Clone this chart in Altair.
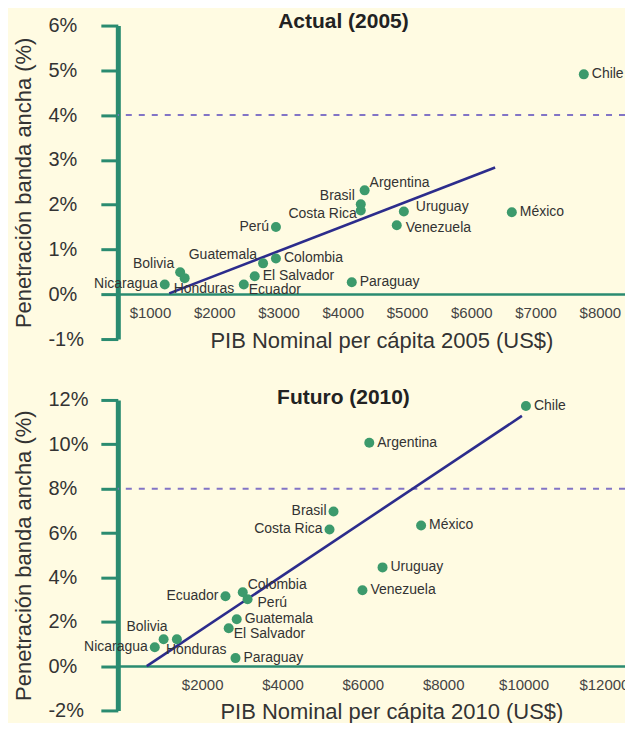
import altair as alt
import pandas as pd

FONT = "Liberation Sans, Arial, Helvetica, sans-serif"
TEAL = "#2a8b70"
DOT = "#3c9a6c"
NAVY = "#2c2c8c"
DASH = "#8274c6"
BG = "#fffbe2"

countries = ["Chile", "Argentina", "Brasil", "Costa Rica", "Uruguay", "Venezuela",
             "México", "Paraguay", "Perú", "Colombia", "Guatemala", "El Salvador",
             "Ecuador", "Bolivia", "Honduras", "Nicaragua"]

# Actual (2005): PIB nominal per cápita (US$) and penetración (%)
gdp_2005 = [7750, 4340, 4280, 4280, 4950, 4840, 6630, 4140, 2960, 2960, 2760, 2630,
            2460, 1470, 1540, 1230]
pen_2005 = [4.91, 2.32, 2.01, 1.87, 1.85, 1.54, 1.83, 0.27, 1.50, 0.80, 0.69, 0.40,
            0.22, 0.49, 0.36, 0.22]
pos_2005 = ["r", "ra", "la", "lb", "ru", "rd", "r", "r", "l", "r", "la", "r",
            "rb", "la", "bl", "l"]

# Futuro (2010)
gdp_2010 = [10060, 6160, 5270, 5170, 6490, 5990, 7450, 2830, 3130, 3010, 2860, 2660,
            2580, 1040, 1370, 820]
pen_2010 = [11.73, 10.07, 6.97, 6.16, 4.45, 3.42, 6.34, 0.36, 3.01, 3.33, 2.11, 1.71,
            3.15, 1.21, 1.21, 0.85]
pos_2010 = ["r", "r", "l", "l", "r", "r", "r", "r", "rb2", "ra", "r", "rb",
            "l", "a", "bl", "l"]

trend_2005_x = [1300, 6370]
trend_2005_y = [0.02, 2.83]
trend_2010_x = [620, 9960]
trend_2010_y = [0.0, 11.28]

target_2005 = [4]
target_2010 = [8]

x_ticks_2005 = [1000, 2000, 3000, 4000, 5000, 6000, 7000, 8000]
y_ticks_2005 = [-1, 0, 1, 2, 3, 4, 5, 6]
x_ticks_2010 = [2000, 4000, 6000, 8000, 10000, 12000]
y_ticks_2010 = [-2, 0, 2, 4, 6, 8, 10, 12]

# label placement: code -> (align, dx, dy)
PLACE = {
    "r": ("left", 8, 0),
    "ru": ("left", 12, -4),
    "rd": ("left", 9, 3),
    "l": ("right", -7, 0),
    "ra": ("left", 5, -7),
    "rb": ("left", 5, 6),
    "rb2": ("left", 10, 4),
    "la": ("right", -6, -8),
    "lb": ("right", -4, 4),
    "a": ("right", 4, -12),
    "bl": ("left", -11, 11),
}


def panel(gdp, pen, pos, tx, ty, target, xdom, ydom, xticks, yticks,
          title, xtitle, width, height, title_dx, title_offset, xaxis_offset,
          xtitle_x, xtitle_pad):
    pts = pd.DataFrame({"country": countries, "gdp": gdp, "pen": pen, "pos": pos})
    trend = pd.DataFrame({"gdp": tx, "pen": ty})
    tgt = pd.DataFrame({"pen": target})

    x_enc = alt.X(
        "gdp:Q",
        scale=alt.Scale(domain=xdom, nice=False, zero=False),
        axis=alt.Axis(
            values=xticks, labelExpr="'$' + datum.value", title=xtitle,
            offset=xaxis_offset, ticks=False, tickSize=0, grid=False,
            domainColor=TEAL, domainWidth=2.5,
            labelFontSize=15, labelColor="#444", labelPadding=11.5, labelFont=FONT,
            labelFlush=False, labelOverlap=False,
            titleFontSize=22, titleFontWeight="normal", titleColor="#333",
            titleFont=FONT, titlePadding=xtitle_pad, titleX=xtitle_x,
        ),
    )
    y_enc = alt.Y(
        "pen:Q",
        scale=alt.Scale(domain=ydom, nice=False, zero=False),
        axis=alt.Axis(
            values=yticks, labelExpr="datum.value + '%'",
            title="Penetración banda ancha (%)", grid=False,
            domainColor=TEAL, domainWidth=5, tickColor=TEAL, tickWidth=3, tickSize=17,
            labelAlign="left", labelBaseline="middle", labelPadding=53,
            labelFontSize=20, labelColor="#333", labelFont=FONT,
            labelFlush=False, labelOverlap=False,
            titleFontSize=22, titleFontWeight="normal", titleColor="#333",
            titleFont=FONT, titlePadding=12,
        ),
    )

    rule = alt.Chart(tgt).mark_rule(color=DASH, strokeDash=[6, 7], strokeWidth=2).encode(y=y_enc)
    line = alt.Chart(trend).mark_line(color=NAVY, strokeWidth=2.6).encode(x=x_enc, y=y_enc)
    dots = alt.Chart(pts).mark_circle(size=100, color=DOT, opacity=1).encode(x=x_enc, y=y_enc)

    labels = []
    for code, (align, dx, dy) in PLACE.items():
        labels.append(
            alt.Chart(pts).transform_filter(alt.datum.pos == code)
            .mark_text(align=align, baseline="middle", dx=dx, dy=dy, fontSize=14,
                       color="#333", font=FONT)
            .encode(x=x_enc, y=y_enc, text="country:N")
        )

    return alt.layer(rule, line, dots, *labels).properties(
        width=width, height=height,
        title=alt.TitleParams(title, fontSize=21, fontWeight="bold", color="#222",
                              font=FONT, anchor="middle", frame="group",
                              dx=title_dx, offset=title_offset),
    )


top = panel(gdp_2005, pen_2005, pos_2005, trend_2005_x, trend_2005_y, target_2005,
            [500, 8391], [-1, 6], x_ticks_2005, y_ticks_2005,
            "Actual (2005)", "PIB Nominal per cápita 2005 (US$)",
            508, 314, -28, -16, -45, 264, 9.5)
bottom = panel(gdp_2010, pen_2010, pos_2010, trend_2010_x, trend_2010_y, target_2010,
               [-100, 12526], [-2, 12], x_ticks_2010, y_ticks_2010,
               "Futuro (2010)", "PIB Nominal per cápita 2010 (US$)",
               508, 311, -28, -18, -44.5, 274, 9)

chart = alt.vconcat(top, bottom, spacing=36).properties(
    padding={"left": 5, "top": 2, "right": -4, "bottom": 0},
    background=BG,
).configure_view(stroke=None)

chart.save("out.html", embed_options={"renderer": "svg", "actions": False})
